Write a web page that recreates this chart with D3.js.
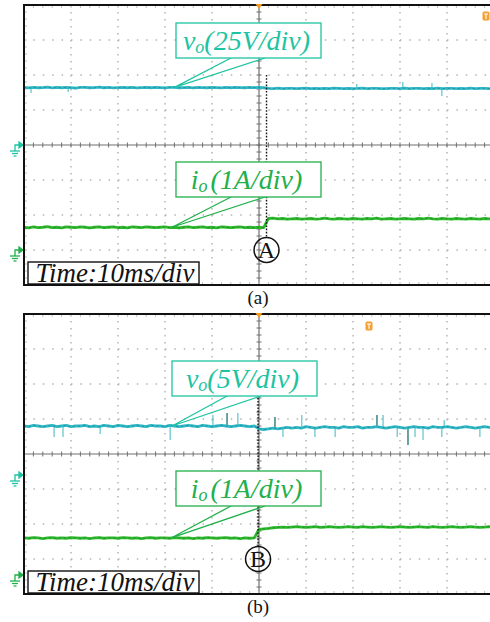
<!DOCTYPE html>
<html>
<head>
<meta charset="utf-8">
<script src="https://cdn.jsdelivr.net/npm/d3@7"></script>
<style>
  body { margin: 0; background: #fff; }
  svg { display: block; }
  text { font-family: "Liberation Serif", "Times New Roman", serif; }
</style>
</head>
<body>
<svg id="chart" width="490" height="622"></svg>
<script>
// Samples are 1 ms apart, 0..100 ms (10 ms/div, 10 divisions)
// (a) output voltage, V
const voA = [
  41.1,40.8,41.2,40.9,41.0,41.3,40.8,41.1,40.9,41.2,
  41.0,40.7,41.1,41.2,40.9,41.0,41.3,40.9,41.1,40.8,
  41.0,41.2,40.9,41.1,40.8,41.0,41.2,40.9,41.1,41.0,
  40.8,41.1,41.2,40.9,41.0,41.1,40.8,41.2,41.0,40.9,
  41.1,41.0,40.8,41.2,40.9,41.1,41.0,40.9,41.2,41.0,
  41.1,40.9,40.5,40.3,40.6,40.2,40.4,40.5,40.2,40.4,
  40.6,40.3,40.4,40.2,40.5,40.3,40.6,40.4,40.2,40.5,
  40.3,40.4,40.6,40.2,40.4,40.5,40.3,40.2,40.5,40.4,
  40.3,40.6,40.2,40.4,40.5,40.3,40.4,40.2,40.6,40.3,
  40.4,40.5,40.2,40.4,40.3,40.6,40.2,40.4,40.5,40.3,
  40.4
];
// (a) output current, A
const ioA = [
  0.65,0.63,0.66,0.64,0.65,0.67,0.64,0.65,0.63,0.66,
  0.65,0.64,0.66,0.65,0.63,0.65,0.66,0.64,0.65,0.66,
  0.64,0.65,0.63,0.66,0.65,0.64,0.66,0.65,0.64,0.65,
  0.66,0.64,0.65,0.63,0.65,0.66,0.64,0.65,0.66,0.64,
  0.65,0.63,0.66,0.65,0.64,0.65,0.66,0.64,0.65,0.64,
  0.65,0.64,0.90,0.91,0.89,0.90,0.88,0.89,0.90,0.88,
  0.89,0.90,0.88,0.89,0.91,0.89,0.88,0.90,0.89,0.88,
  0.90,0.89,0.88,0.90,0.89,0.91,0.88,0.89,0.90,0.88,
  0.89,0.90,0.89,0.88,0.90,0.89,0.91,0.89,0.88,0.90,
  0.89,0.88,0.90,0.89,0.88,0.90,0.89,0.88,0.90,0.89,
  0.88
];
// (b) output voltage, V
const voB = [
  7.0,6.9,7.1,7.0,6.9,7.0,7.1,6.9,7.0,7.1,
  6.9,7.0,7.0,7.1,6.9,7.0,6.9,7.1,7.0,6.9,
  7.1,7.0,6.9,7.0,7.1,7.0,6.9,7.1,7.0,7.0,
  6.9,7.1,7.0,6.9,7.0,7.1,7.0,6.9,7.1,7.0,
  6.9,7.0,7.1,7.0,6.9,7.0,7.1,7.0,6.9,7.0,
  6.6,6.5,6.6,6.7,6.6,6.7,6.8,6.7,6.8,6.7,
  6.9,6.8,6.7,6.8,6.9,6.8,6.8,6.7,6.9,6.8,
  6.8,6.9,6.7,6.8,6.8,6.9,6.8,6.7,6.8,6.9,
  6.8,6.7,6.8,6.9,6.8,6.8,6.7,6.9,6.8,6.8,
  6.9,6.8,6.7,6.8,6.9,6.8,6.7,6.8,6.9,6.8,
  6.8
];
// (b) output current, A
const ioB = [
  1.06,1.05,1.07,1.06,1.04,1.06,1.07,1.05,1.06,1.05,
  1.07,1.06,1.05,1.06,1.04,1.06,1.07,1.05,1.06,1.06,
  1.05,1.07,1.06,1.05,1.06,1.04,1.06,1.07,1.05,1.06,
  1.06,1.05,1.07,1.06,1.05,1.06,1.04,1.06,1.05,1.07,
  1.06,1.05,1.06,1.07,1.05,1.06,1.04,1.06,1.05,1.06,
  1.30,1.32,1.33,1.35,1.36,1.37,1.36,1.37,1.38,1.37,
  1.36,1.37,1.38,1.36,1.37,1.38,1.37,1.36,1.37,1.38,
  1.37,1.36,1.38,1.37,1.36,1.37,1.38,1.37,1.36,1.37,
  1.38,1.37,1.36,1.37,1.38,1.37,1.36,1.38,1.37,1.36,
  1.37,1.38,1.37,1.36,1.37,1.38,1.37,1.36,1.37,1.38,
  1.37
];
// spikes on the voltage traces: [time ms, peak value V]
const voASpikes = [[1.5, 37.1], [9.4, 37.9], [70.8, 43.6], [80.6, 45.0], [86.8, 44.3], [88.9, 35.0]];
const voBSpikes = [
  [6.4, 5.43], [8.3, 5.43], [16.2, 5.86], [31.1, 5.0], [40.2, 8.57], [45.5, 8.86],
  [55.1, 5.43], [59.1, 8.57], [61.9, 5.43], [66.2, 5.43], [76.4, 8.57], [79.4, 5.43],
  [83.2, 5.43], [84.9, 5.0], [88.9, 5.43], [89.4, 7.86], [97.0, 5.43]
];
const voBDarkSpikes = [[43.2, 8.86], [53.4, 8.29], [75.1, 8.57], [81.7, 4.29]];
// load step instants, ms
const stepA = 51.6;
const stepB = 49.8;

const svg = d3.select("#chart");
const X0 = 24, W = 470, H = 280, DIV_X = 47, DIV_Y = 35;
const x = d3.scaleLinear().domain([0, 100]).range([X0, X0 + W]);
const TEAL = "#1ec4a2", CYAN = "#2fb8c6", GREEN = "#22b04a", TRACE_G = "#2cb82c";

svg.append("defs").append("clipPath").attr("id", "clip")
  .append("rect").attr("x", X0).attr("y", 0).attr("width", W).attr("height", H);

const panels = [
  {
    top: 5, name: "(a)", mark: "A", step: stepA, dashTop: 70, trig: [486, 11],
    ch: [
      { data: voA, perDiv: 25, groundY: 140, color: CYAN, labelColor: TEAL, spikes: voASpikes, dark: [],
        sym: "v", rest: "(25V/div)", box: [176, 18], tip: 32 },
      { data: ioA, perDiv: 1, groundY: 245, color: TRACE_G, labelColor: GREEN, spikes: [], dark: [],
        sym: "i", rest: "(1A/div)", box: [176, 157], tip: 31.5 }
    ]
  },
  {
    top: 314, name: "(b)", mark: "B", step: stepB, dashTop: 71, trig: [369, 12],
    ch: [
      { data: voB, perDiv: 5, groundY: 161, color: CYAN, labelColor: TEAL, spikes: voBSpikes, dark: voBDarkSpikes,
        sym: "v", rest: "(5V/div)", box: [172, 47], tip: 31.5 },
      { data: ioB, perDiv: 1, groundY: 261, color: TRACE_G, labelColor: GREEN, spikes: [], dark: [],
        sym: "i", rest: "(1A/div)", box: [176, 157], tip: 31.5 }
    ]
  }
];

panels.forEach(p => {
  const g = svg.append("g").attr("transform", `translate(0,${p.top})`);

  // dotted graticule
  for (let j = 1; j < 8; j++) {
    if (j === 4) continue;
    g.append("line").attr("x1", X0).attr("x2", X0 + W).attr("y1", j * DIV_Y).attr("y2", j * DIV_Y)
      .attr("stroke", "#b4b4b4").attr("stroke-width", 1.5).attr("stroke-dasharray", "1.5,7.9");
  }
  for (let i = 1; i < 10; i++) {
    if (i === 5) continue;
    g.append("line").attr("x1", X0 + i * DIV_X).attr("x2", X0 + i * DIV_X).attr("y1", 0).attr("y2", H)
      .attr("stroke", "#b4b4b4").attr("stroke-width", 1.5).attr("stroke-dasharray", "1.5,5.5");
  }
  // centre axes with minor ticks
  const cy = 4 * DIV_Y, cx = X0 + 5 * DIV_X;
  g.append("line").attr("x1", X0).attr("x2", X0 + W).attr("y1", cy).attr("y2", cy)
    .attr("stroke", "#707070").attr("stroke-width", 1.2);
  g.append("line").attr("x1", cx).attr("x2", cx).attr("y1", 0).attr("y2", H)
    .attr("stroke", "#707070").attr("stroke-width", 1.2);
  for (let k = 1; k < 50; k++) {
    const tx = X0 + k * DIV_X / 5;
    g.append("line").attr("x1", tx).attr("x2", tx).attr("y1", cy - 2.5).attr("y2", cy + 2.5)
      .attr("stroke", "#707070").attr("stroke-width", 1);
    g.append("line").attr("x1", tx).attr("x2", tx).attr("y1", 0).attr("y2", 3)
      .attr("stroke", "#c0c0c0").attr("stroke-width", 1);
    g.append("line").attr("x1", tx).attr("x2", tx).attr("y1", H - 3).attr("y2", H)
      .attr("stroke", "#c0c0c0").attr("stroke-width", 1);
  }
  for (let k = 1; k < 40; k++) {
    const ty = k * DIV_Y / 5;
    g.append("line").attr("x1", cx - 2.5).attr("x2", cx + 2.5).attr("y1", ty).attr("y2", ty)
      .attr("stroke", "#707070").attr("stroke-width", 1);
    g.append("line").attr("x1", X0).attr("x2", X0 + 3).attr("y1", ty).attr("y2", ty)
      .attr("stroke", "#c0c0c0").attr("stroke-width", 1);
  }

  // traces
  const traces = g.append("g").attr("clip-path", "url(#clip)");
  p.ch.forEach(c => {
    const y = d3.scaleLinear().domain([0, c.perDiv]).range([c.groundY, c.groundY - DIV_Y]);
    c.y = y;
    const at = t => y(c.data[Math.round(t)]);
    c.spikes.forEach(s => traces.append("line")
      .attr("x1", x(s[0])).attr("x2", x(s[0])).attr("y1", at(s[0])).attr("y2", y(s[1]))
      .attr("stroke", "#5cc4cc").attr("stroke-width", 1.2));
    c.dark.forEach(s => traces.append("line")
      .attr("x1", x(s[0])).attr("x2", x(s[0])).attr("y1", at(s[0])).attr("y2", y(s[1]))
      .attr("stroke", "#2a7c78").attr("stroke-width", 1.4));
    const line = d3.line().x((d, i) => x(i)).y(d => y(d));
    traces.append("path").datum(c.data).attr("d", line)
      .attr("fill", "none").attr("stroke", c.color).attr("stroke-width", 2.8).attr("stroke-linejoin", "round");
    traces.append("path").datum(c.data).attr("d", line)
      .attr("fill", "none").attr("stroke", d3.color(c.color).darker(0.9)).attr("stroke-width", 0.8)
      .attr("stroke-dasharray", "2,3");

    // ground reference marker
    const gy = c.groundY;
    const gm = g.append("g").attr("stroke", c.labelColor).attr("fill", "none").attr("stroke-width", 1.3);
    gm.append("path").attr("d", `M15,${gy + 6}V${gy}H19`);
    gm.append("path").attr("d", `M19,${gy - 3}L23,${gy}L19,${gy + 3}Z`).attr("fill", c.labelColor);
    gm.append("line").attr("x1", 10).attr("x2", 20).attr("y1", gy + 6).attr("y2", gy + 6);
    gm.append("line").attr("x1", 12).attr("x2", 18).attr("y1", gy + 8.5).attr("y2", gy + 8.5);
    gm.append("line").attr("x1", 13.5).attr("x2", 16.5).attr("y1", gy + 11).attr("y2", gy + 11);
  });

  // border (right edge is cut off)
  g.append("path").attr("d", `M${X0 + W},0H${X0}V${H}H${X0 + W}`)
    .attr("fill", "none").attr("stroke", "#111").attr("stroke-width", 2);

  // trigger markers
  g.append("path").attr("d", `M${cx - 3.5},-1L${cx + 3.5},-1L${cx},4Z`).attr("fill", "#f39a1e");
  g.append("rect").attr("x", p.trig[0] - 3.5).attr("y", p.trig[1] - 4.5).attr("width", 7).attr("height", 9)
    .attr("rx", 1.5).attr("fill", "#f5a030");
  g.append("path").attr("d", `M${p.trig[0] - 2},${p.trig[1] - 2}H${p.trig[0] + 2}M${p.trig[0]},${p.trig[1] - 2}V${p.trig[1] + 3}`)
    .attr("stroke", "#fff").attr("stroke-width", 1.1);

  // step marker: dotted line and circled letter
  const sx = x(p.step);
  g.append("line").attr("x1", sx).attr("x2", sx).attr("y1", p.dashTop).attr("y2", 232)
    .attr("stroke", "#111").attr("stroke-width", 1.4).attr("stroke-dasharray", "1.6,1.6");
  g.append("circle").attr("cx", sx).attr("cy", 245).attr("r", 12.5)
    .attr("fill", "none").attr("stroke", "#111").attr("stroke-width", 1.5);
  g.append("text").attr("x", sx).attr("y", 253).attr("text-anchor", "middle")
    .attr("font-size", 24).attr("fill", "#111").text(p.mark);

  // channel labels with callouts
  p.ch.forEach(c => {
    const bx = c.box[0], by = c.box[1], bw = 145, bh = 35;
    const tipX = x(c.tip), tipY = c.y(c.data[Math.round(c.tip)]);
    g.append("path").attr("d", `M${bx + 55},${by + bh}L${tipX},${tipY}L${bx + 89},${by + bh}`)
      .attr("fill", "none").attr("stroke", c.labelColor).attr("stroke-width", 1.3);
    g.append("rect").attr("x", bx).attr("y", by).attr("width", bw).attr("height", bh)
      .attr("fill", "#fff").attr("stroke", c.labelColor).attr("stroke-width", 1.3);
    const t = g.append("text").attr("x", bx + bw / 2 - 2).attr("y", by + 27).attr("text-anchor", "middle")
      .attr("font-style", "italic").attr("font-size", 28).attr("fill", c.labelColor);
    t.append("tspan").text(c.sym);
    t.append("tspan").attr("font-size", 18).attr("dy", 3).text("o");
    t.append("tspan").attr("dy", -3).attr("dx", c.sym === "i" ? 3 : 0).text(c.rest);
  });

  // time base box
  g.append("rect").attr("x", 28).attr("y", 257).attr("width", 171).attr("height", 22)
    .attr("fill", "#fff").attr("stroke", "#111").attr("stroke-width", 1.4);
  g.append("text").attr("x", 115).attr("y", 276.5).attr("text-anchor", "middle")
    .attr("font-style", "italic").attr("font-size", 27).attr("fill", "#111")
    .text("Time:10ms/div");

  // caption
  g.append("text").attr("x", 258).attr("y", 299).attr("text-anchor", "middle")
    .attr("font-size", 19).attr("fill", "#111").text(p.name);
});
</script>
</body>
</html>
